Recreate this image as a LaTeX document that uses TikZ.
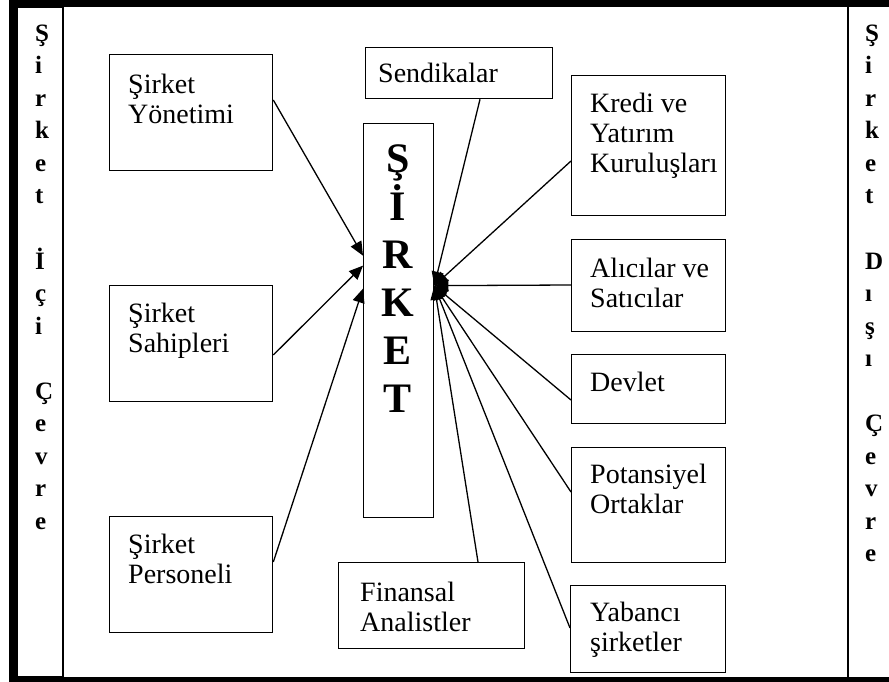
\documentclass[tikz,border=0pt]{standalone}
\usepackage{fontspec}
\setmainfont{Liberation Serif}
\usetikzlibrary{arrows.meta}
\begin{document}
\begin{tikzpicture}[x=1pt,y=-1pt,
  box/.style={draw, line width=1.3pt, anchor=north west, inner sep=0pt},
  txt/.style={anchor=base west, align=left, inner sep=0pt, font=\fontsize{28}{30}\selectfont},
  side/.style={anchor=base west, inner sep=0pt, font=\bfseries\fontsize{25}{30}\selectfont},
  big/.style={anchor=base, inner sep=0pt, font=\bfseries\fontsize{42}{48}\selectfont},
  con/.style={line width=1.3pt},
  arr/.style={con, -{Triangle[length=14pt,width=12pt]}}]
\useasboundingbox (0,0) rectangle (889,682);
% outer frame
\fill (9,0) rectangle (889,7);
\fill (9,0) rectangle (16,682);
\fill (9,677) rectangle (889,682);
% side columns
\draw[line width=1.5pt] (17,7) rectangle (63,677);
\draw[line width=1.5pt] (848,7) -- (848,677);
\foreach \c/\i in {Ş/0,i/1,r/2,k/3,e/4,t/5,İ/7,ç/8,i/9,Ç/11,e/12,v/13,r/14,e/15}
  \node[side] (L\i) at (35,{41.5+32.5*\i}) {\c};
\foreach \c/\i in {Ş/0,i/1,r/2,k/3,e/4,t/5,D/7,ı/8,ş/9,ı/10,Ç/12,e/13,v/14,r/15,e/16}
  \node[side] (R\i) at (865,{41.5+32.5*\i}) {\c};
% central box
\node[box, minimum width=70pt, minimum height=394pt] (sirket) at (363,123) {};
\foreach \c [count=\i from 0] in {Ş,İ,R,K,E,T}
  \node[big] (S\i) at (398,{172+48*\i}) {\c};
% left boxes (text anchored at the baseline of its last line)
\node[box, minimum width=163pt, minimum height=116pt] (yon) at (109,54) {};
\node[txt] (tyon) at (128,124) {Şirket\\Yönetimi};
\node[box, minimum width=163pt, minimum height=116pt] (sah) at (109,285) {};
\node[txt] (tsah) at (128,352) {Şirket\\Sahipleri};
\node[box, minimum width=163pt, minimum height=116pt] (per) at (109,516) {};
\node[txt] (tper) at (128,583) {Şirket\\Personeli};
% top / bottom middle boxes
\node[box, minimum width=187pt, minimum height=51pt] (sen) at (365,47) {};
\node[txt] (tsen) at (378,83) {Sendikalar};
\node[box, minimum width=186pt, minimum height=86pt] (fin) at (338,562) {};
\node[txt] (tfin) at (360,631) {Finansal\\Analistler};
% right boxes
\node[box, minimum width=154pt, minimum height=140pt] (kre) at (571,75) {};
\node[txt] (tkre) at (590,172) {Kredi ve\\Yatırım\\Kuruluşları};
\node[box, minimum width=154pt, minimum height=92pt] (ali) at (571,239) {};
\node[txt] (tali) at (590,307) {Alıcılar ve\\Satıcılar};
\node[box, minimum width=154pt, minimum height=69pt] (dev) at (571,354) {};
\node[txt] (tdev) at (590,391) {Devlet};
\node[box, minimum width=154pt, minimum height=115pt] (pot) at (571,447) {};
\node[txt] (tpot) at (590,513) {Potansiyel\\Ortaklar};
\node[box, minimum width=155pt, minimum height=87pt] (yab) at (570,585) {};
\node[txt] (tyab) at (590,651) {Yabancı\\şirketler};
% connectors, left
\draw[arr] ([yshift=-46pt]yon.north east) -- ([yshift=65pt]sirket.west);
\draw[arr] ([yshift=-70pt]sah.north east) -- ([yshift=55pt]sirket.west);
\draw[arr] ([yshift=-46pt]per.north east) -- ([yshift=32pt]sirket.west);
% connectors, right
\draw[arr] ([xshift=115pt]sen.south west) -- ([yshift=35pt]sirket.east);
\draw[arr] ([yshift=-86pt]kre.north west) -- ([yshift=35pt]sirket.east);
\draw[arr] ([yshift=-46pt]ali.north west) -- ([yshift=35pt]sirket.east);
\draw[arr] ([yshift=-46pt]dev.north west) -- ([yshift=35pt]sirket.east);
\draw[arr] ([yshift=-45pt]pot.north west) -- ([yshift=35pt]sirket.east);
\draw[arr] ([yshift=-43pt]yab.north west) -- ([yshift=35pt]sirket.east);
\draw[arr] ([xshift=140pt]fin.north west) -- ([yshift=35pt]sirket.east);
\end{tikzpicture}
\end{document}
